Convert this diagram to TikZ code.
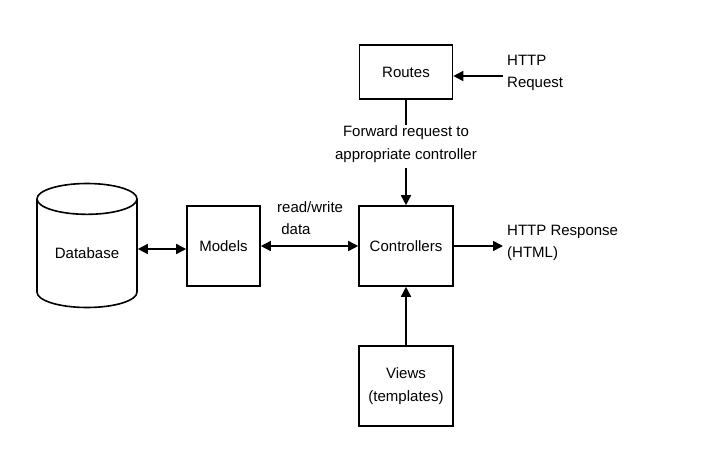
\documentclass[tikz,border=0pt]{standalone}
\usepackage{fontspec}
\setmainfont{Liberation Sans}
\usetikzlibrary{arrows.meta,shapes.geometric}
\begin{document}
\begin{tikzpicture}[x=1pt,y=-1pt,
  font=\fontsize{15}{22.5}\selectfont,
  box/.style={draw,line width=1.6pt,inner sep=0pt,align=center},
  link/.style={line width=1.6pt,-{Triangle[length=10pt,width=10pt]}},
  biglink/.style={line width=1.6pt,{Triangle[length=10pt,width=10pt]}-{Triangle[length=10pt,width=10pt]}},
  lbl/.style={align=left,inner sep=0pt,anchor=west}]
\useasboundingbox (0,0) rectangle (702,466);

% boxes
\node[box,minimum width=93pt,minimum height=54pt] (routes) at (406,72) {Routes};
\node[box,minimum width=94pt,minimum height=80pt] (ctrl) at (406,246) {Controllers};
\node[box,minimum width=94pt,minimum height=80pt] (views) at (406,386) {Views\\(templates)};
\node[box,minimum width=73pt,minimum height=80pt] (models) at (223.5,246) {Models};
\node[draw,line width=1.6pt,cylinder,shape border rotate=90,aspect=0.48,
      minimum width=100pt,minimum height=124pt,inner sep=0pt,
      anchor=shape center] (db) at (87,245.5) {Database};

% free ends and labels
\coordinate (req) at (503,76);
\coordinate (resp) at (503,246);
\node[lbl] (reqtxt) at (507,73) {HTTP\\Request};
\node[lbl] (resptxt) at (507,243) {HTTP Response\\(HTML)};
\node[align=center,inner sep=0pt] (fwd) at (406,144) {Forward request to\\appropriate controller};
\node[lbl] (rw) at (277,218) {read/write\\\ data};

% connectors
\draw[link] (req) -- (req -| routes.east);
\draw[line width=1.6pt] (routes.south) -- (routes.south |- 0,125);
\draw[link] (ctrl.north |- 0,168) -- (ctrl.north);
\draw[link] (ctrl.east) -- (resp);
\draw[link] (views.north) -- (ctrl.south);
\draw[biglink] (models.east) -- (ctrl.west);
\draw[biglink] (db.east |- 0,249) -- (models.west |- 0,249);
\end{tikzpicture}
\end{document}
